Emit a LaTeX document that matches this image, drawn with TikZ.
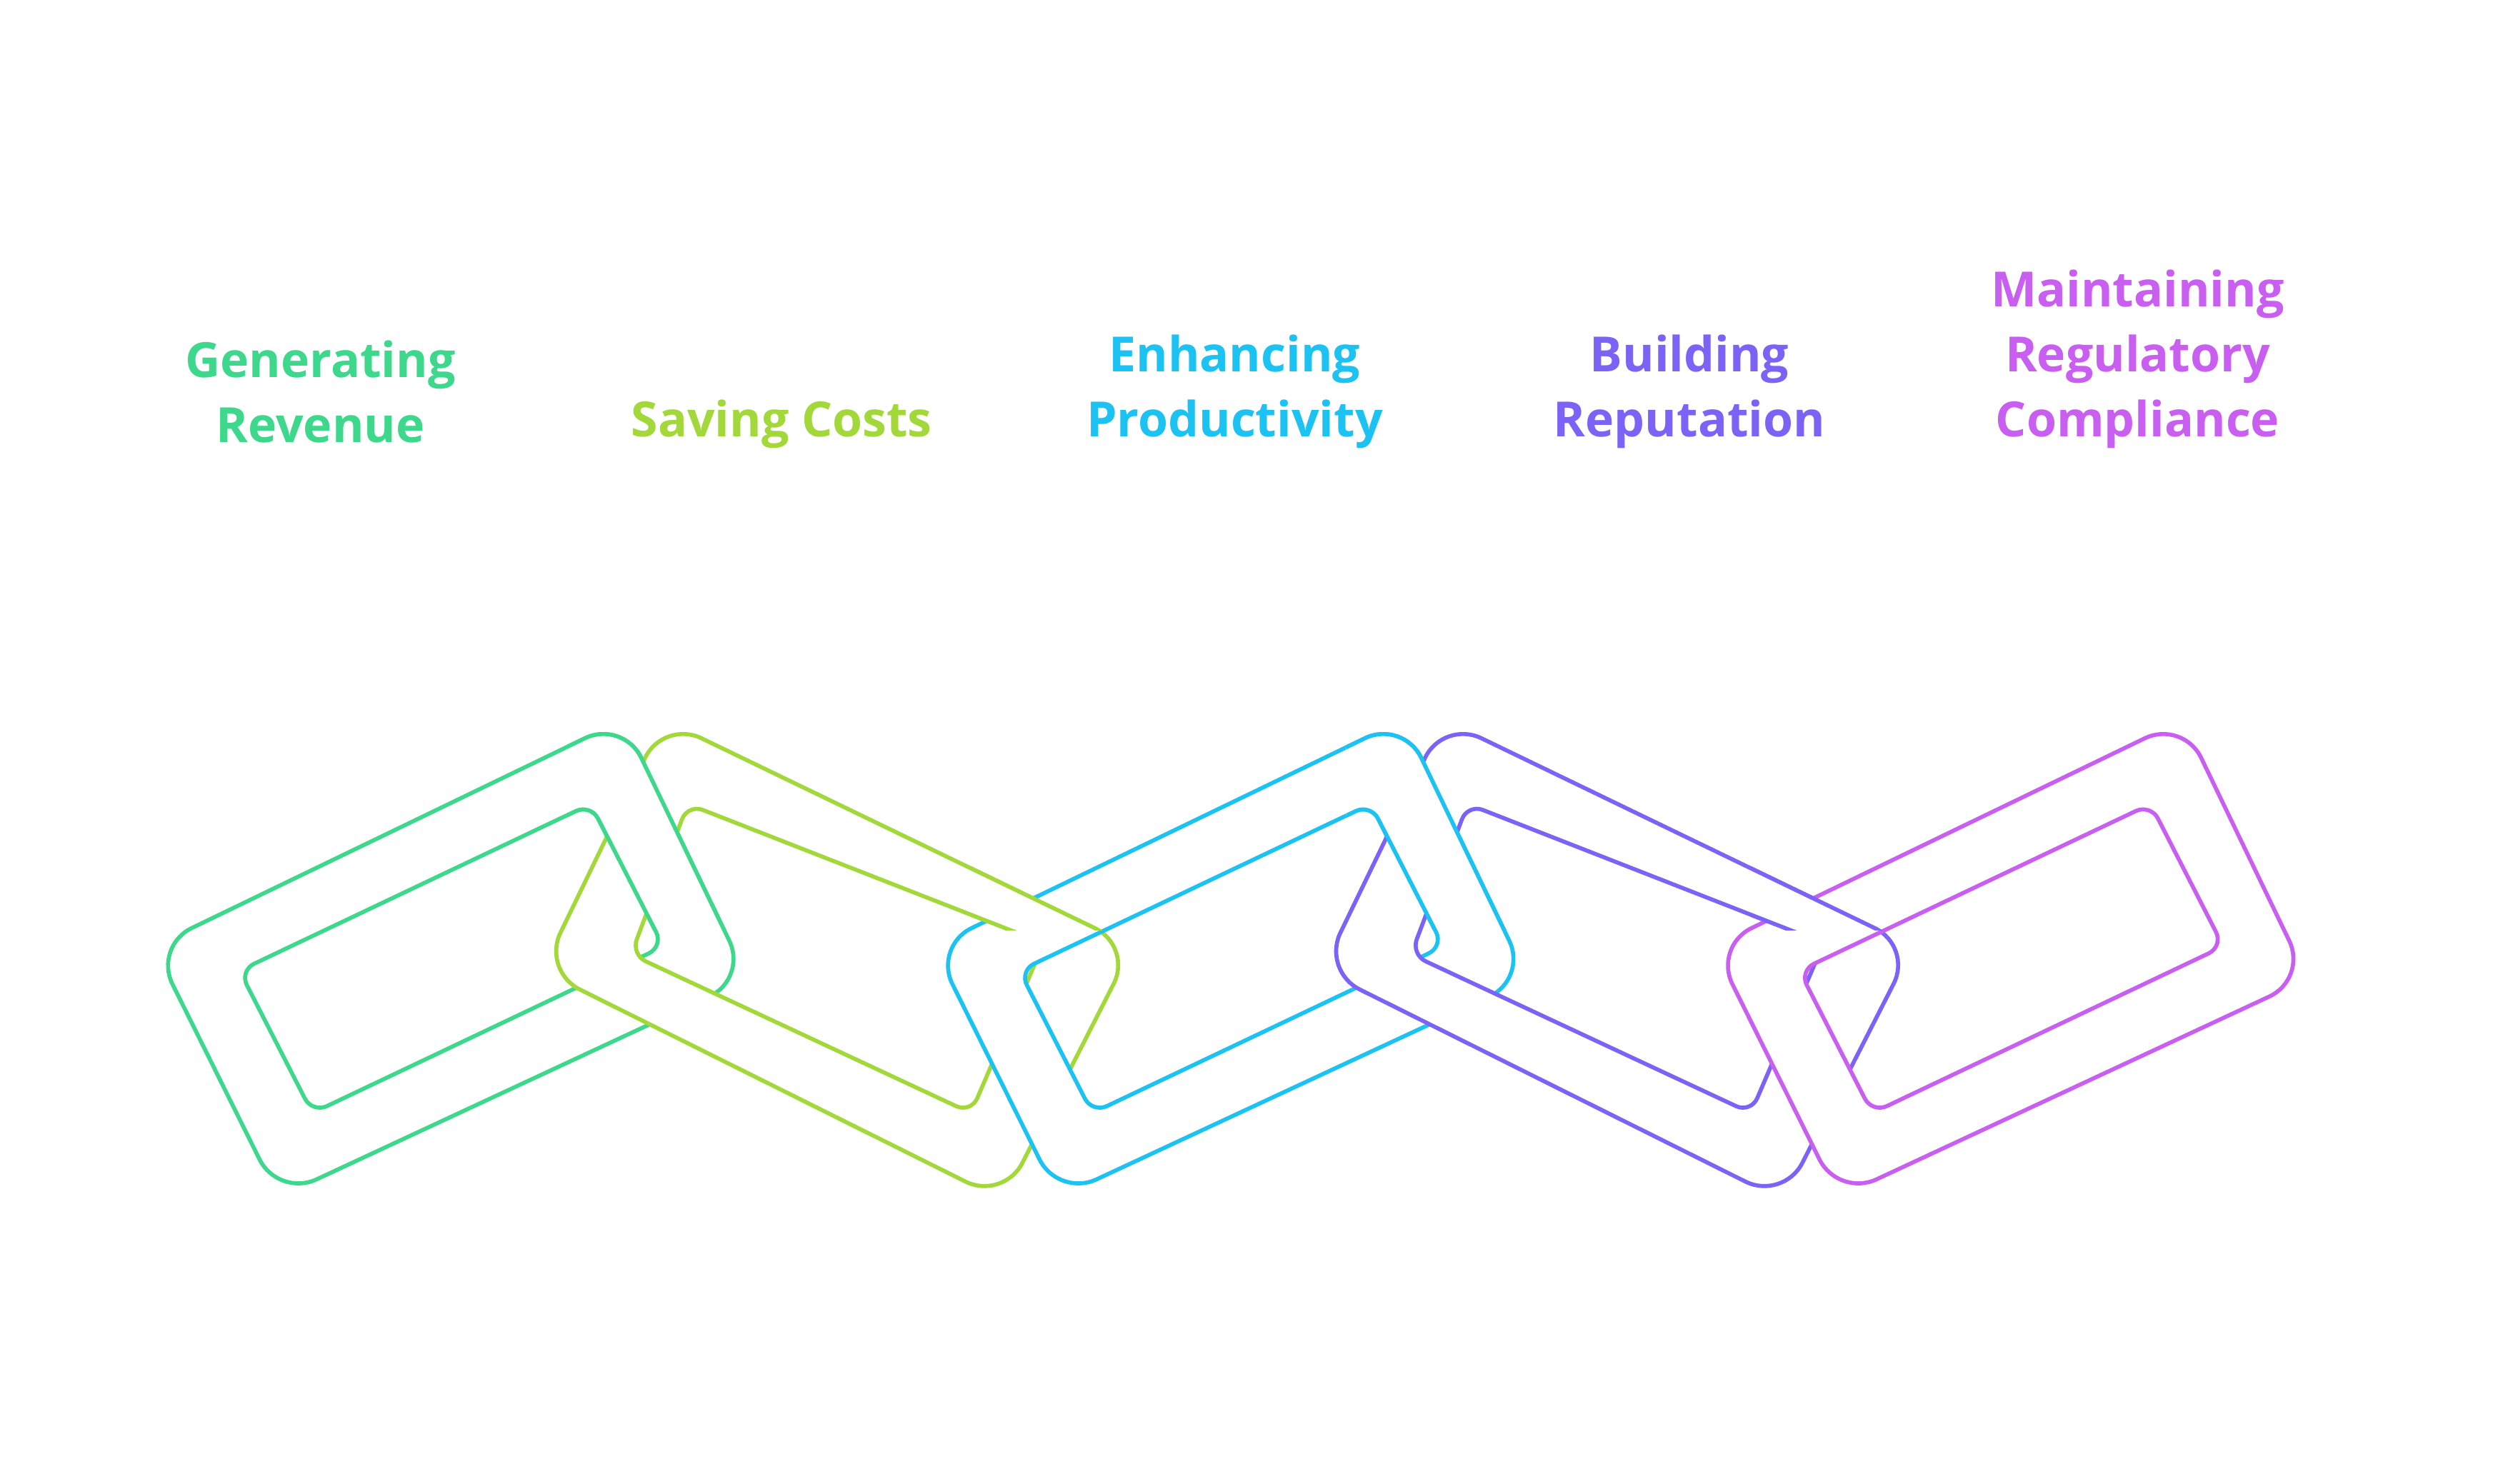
\documentclass[tikz,border=0pt]{standalone}
\usepackage{fontspec}
\setmainfont{Open Sans}
\usetikzlibrary{calc}
\definecolor{cA}{HTML}{3DD88C}
\definecolor{cB}{HTML}{A2D83A}
\definecolor{cC}{HTML}{1CC2F2}
\definecolor{cD}{HTML}{7C62F5}
\definecolor{cE}{HTML}{C95FF0}
\newcommand\chainlink[9]{%
\path[draw=#1,fill=white,even odd rule,line width=1.25pt]
 [rounded corners=13pt] ($(#2)!0.5!(#3)$)--(#3)--(#4)--(#5)--(#2)--cycle
 [rounded corners=5pt] ($(#6)!0.5!(#7)$)--(#7)--(#8)--(#9)--(#6)--cycle;}
\newcommand\linkodd[2]{\chainlink{#1}{95+#2,585}{385+#2,445}{462+#2,605}{172+#2,740}{148+#2,600}{365+#2,497}{410+#2,585}{193+#2,688}}
\newcommand\linkeven[2]{\chainlink{#1}{335+#2,600}{410+#2,445}{700+#2,585}{620+#2,742}{390+#2,590}{425+#2,497}{645+#2,583}{600+#2,688}}
\tikzset{lbl/.style={font=\bfseries\fontsize{15}{20}\selectfont,align=center,anchor=center}}
\begin{document}
\begin{tikzpicture}[x=0.5pt,y=-0.5pt]
\useasboundingbox[fill=white] (0,0) rectangle (1553,917);
\node[lbl,text=cA] (t1) at (198,242) {Generating\\Revenue};
\node[lbl,text=cB] (t2) at (483,262) {Saving Costs};
\node[lbl,text=cC] (t3) at (763,242) {Enhancing\\Productivity};
\node[lbl,text=cD] (t4) at (1044,242) {Building\\Reputation};
\node[lbl,text=cE] (t5) at (1321,222) {Maintaining\\Regulatory\\Compliance};
\linkodd{cA}{0}
\linkeven{cB}{0}
\begin{scope}\clip (350,420) rectangle (480,575); \linkodd{cA}{0}\end{scope}
\linkodd{cC}{482}
\begin{scope}\clip (600,420) rectangle (720,575); \linkeven{cB}{0}\end{scope}
\linkeven{cD}{482}
\begin{scope}\clip (832,420) rectangle (962,575); \linkodd{cC}{482}\end{scope}
\linkodd{cE}{964}
\begin{scope}\clip (1082,420) rectangle (1202,575); \linkeven{cD}{482}\end{scope}
\end{tikzpicture}
\end{document}
